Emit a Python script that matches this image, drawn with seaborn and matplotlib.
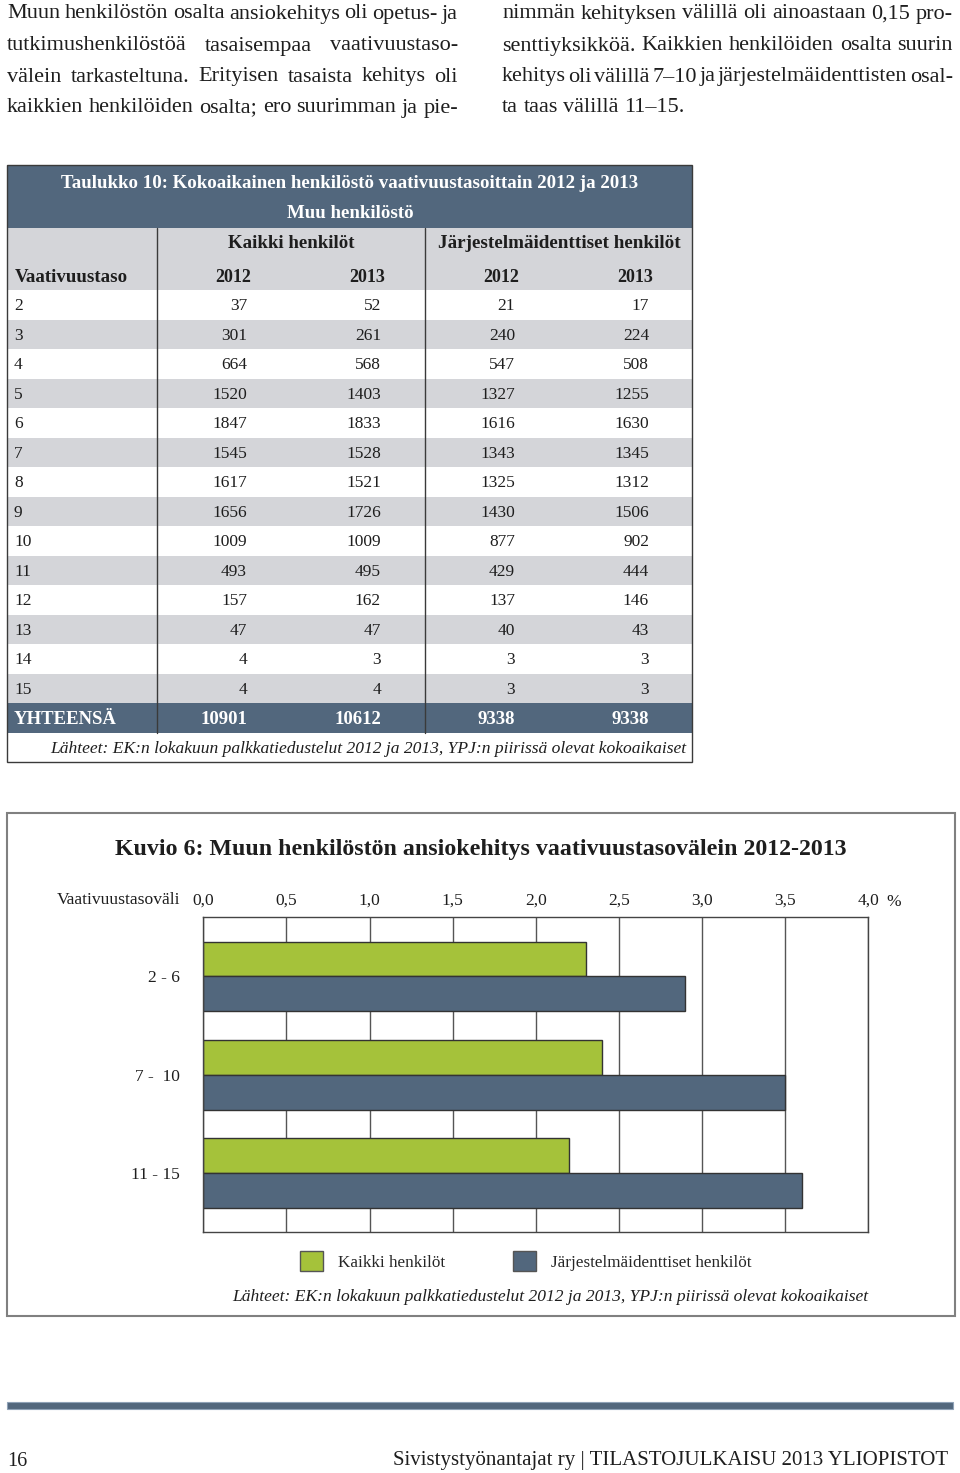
import matplotlib
matplotlib.use("Agg")
import matplotlib.pyplot as plt
from matplotlib.patches import Patch, Rectangle
import numpy as np
import pandas as pd
import seaborn as sns

# --- data -------------------------------------------------------------
vaativuustasot = ["2", "3", "4", "5", "6", "7", "8", "9", "10", "11", "12", "13", "14", "15"]
kaikki_2012 = [37, 301, 664, 1520, 1847, 1545, 1617, 1656, 1009, 493, 157, 47, 4, 4]
kaikki_2013 = [52, 261, 568, 1403, 1833, 1528, 1521, 1726, 1009, 495, 162, 47, 3, 4]
jarj_2012 = [21, 240, 547, 1327, 1616, 1343, 1325, 1430, 877, 429, 137, 40, 3, 3]
jarj_2013 = [17, 224, 508, 1255, 1630, 1345, 1312, 1506, 902, 444, 146, 43, 3, 3]
yhteensa = [10901, 10612, 9338, 9338]

vaativuustasovali = ["2 - 6", "7 -  10", "11 - 15"]
kaikki_muutos = [2.30, 2.40, 2.20]
jarj_muutos = [2.90, 3.50, 3.60]
sarjat = ["Kaikki henkilöt", "Järjestelmäidenttiset henkilöt"]

x_ticks = [0.0, 0.5, 1.0, 1.5, 2.0, 2.5, 3.0, 3.5, 4.0]

left_text = [
    "Muun henkilöstön osalta ansiokehitys oli opetus- ja",
    "tutkimushenkilöstöä tasaisempaa vaativuustaso-",
    "välein tarkasteltuna. Erityisen tasaista kehitys oli",
    "kaikkien henkilöiden osalta; ero suurimman ja pie-",
]
right_text = [
    "nimmän kehityksen välillä oli ainoastaan 0,15 pro-",
    "senttiyksikköä. Kaikkien henkilöiden osalta suurin",
    "kehitys oli välillä 7–10 ja järjestelmäidenttisten osal-",
    "ta taas välillä 11–15.",
]
lahteet = "Lähteet: EK:n lokakuun palkkatiedustelut 2012 ja 2013, YPJ:n piirissä olevat kokoaikaiset"

SLATE = "#52677d"
GREEN = "#a5c23a"
STRIPE = "#d4d5d9"
INK = "#1e1e1e"

sns.set_theme(style="white")
plt.rcParams["font.family"] = ["Liberation Serif", "DejaVu Serif"]

fig = plt.figure(figsize=(9.6, 14.73), dpi=100)
renderer = fig.canvas.get_renderer()

# page layer in pixel coordinates
page = fig.add_axes([0, 0, 1, 1])
page.set_xlim(0, 960)
page.set_ylim(1473, 0)
page.axis("off")


def justify_line(line, x0, x1, y, size, stretch=True):
    words = line.split()
    texts = [page.text(x0, y, w, fontsize=size, va="center", ha="left", color=INK) for w in words]
    space = size * 100 / 72 * 0.25

    def measure():
        return [t.get_window_extent(renderer).width for t in texts]

    widths = measure()
    if stretch:
        gap = (x1 - x0 - sum(widths)) / max(len(words) - 1, 1)
        while gap < space * 0.45:
            size -= 0.2
            for t in texts:
                t.set_fontsize(size)
            widths = measure()
            gap = (x1 - x0 - sum(widths)) / max(len(words) - 1, 1)
    else:
        gap = space
    x = x0
    for t, w in zip(texts, widths):
        t.set_x(x)
        x += w + gap


# --- body text ---------------------------------------------------------
line_y = [14, 46, 77, 108]
for i, line in enumerate(left_text):
    justify_line(line, 7, 458, line_y[i], 16)
for i, line in enumerate(right_text):
    justify_line(line, 502, 953, line_y[i], 16, stretch=i < 3)

# --- table ---------------------------------------------------------------
tx0, tx1 = 7, 692
col_lines = [157, 425]
num_right = [247, 381, 515, 649]
year_center = [233, 367, 501, 635]
row_top, row_h = 290, 29.5

page.add_patch(Rectangle((tx0, 165), tx1 - tx0, 63, facecolor=SLATE, edgecolor="none"))
page.add_patch(Rectangle((tx0, 228), tx1 - tx0, 62, facecolor=STRIPE, edgecolor="none"))
page.text(350, 183, "Taulukko 10: Kokoaikainen henkilöstö vaativuustasoittain 2012 ja 2013",
          fontsize=13.6, fontweight="bold", color="white", ha="center", va="center")
page.text(350, 213, "Muu henkilöstö", fontsize=13.6, fontweight="bold", color="white",
          ha="center", va="center")
page.text(291, 244, sarjat[0], fontsize=13.6, fontweight="bold", color=INK, ha="center", va="center")
page.text(559, 244, sarjat[1], fontsize=13.8, fontweight="bold", color=INK, ha="center", va="center")
page.text(15, 277, "Vaativuustaso", fontsize=13.6, fontweight="bold", color=INK, ha="left", va="center")
for xc, yr in zip(year_center, ["2012", "2013", "2012", "2013"]):
    page.text(xc, 277, yr, fontsize=13, fontweight="bold", color=INK, ha="center", va="center")

columns = [kaikki_2012, kaikki_2013, jarj_2012, jarj_2013]
for i, taso in enumerate(vaativuustasot):
    top = row_top + i * row_h
    if i % 2 == 1:
        page.add_patch(Rectangle((tx0, top), tx1 - tx0, row_h, facecolor=STRIPE, edgecolor="none"))
    yc = top + row_h / 2 + 1.5
    page.text(14, yc, taso, fontsize=12.5, color=INK, ha="left", va="center")
    for xr, col in zip(num_right, columns):
        page.text(xr, yc, str(col[i]), fontsize=12.5, color=INK, ha="right", va="center")

tot_top = row_top + len(vaativuustasot) * row_h
page.add_patch(Rectangle((tx0, tot_top), tx1 - tx0, 30, facecolor=SLATE, edgecolor="none"))
page.text(14, tot_top + 16, "YHTEENSÄ", fontsize=13.5, fontweight="bold", color="white", ha="left", va="center")
for xr, v in zip(num_right, yhteensa):
    page.text(xr, tot_top + 16, str(v), fontsize=13.5, fontweight="bold", color="white", ha="right", va="center")
for xl in col_lines:
    page.plot([xl, xl], [228, tot_top + 30], color="#3a3a3a", lw=1)
page.text(686, tot_top + 46, lahteet, fontsize=12.6, style="italic", color=INK, ha="right", va="center")
page.add_patch(Rectangle((tx0, 165), tx1 - tx0, tot_top + 59 - 165, facecolor="none",
                         edgecolor="#3a3a3a", lw=1))

# --- chart box -------------------------------------------------------------
page.add_patch(Rectangle((7, 813), 948, 503, facecolor="none", edgecolor="#808080", lw=1.5))
page.text(481, 849, "Kuvio 6: Muun henkilöstön ansiokehitys vaativuustasovälein 2012-2013",
          fontsize=17.2, fontweight="bold", color=INK, ha="center", va="center")
page.text(180, 900, "Vaativuustasoväli", fontsize=12.6, color=INK, ha="right", va="center")
page.text(886, 902, "%", fontsize=12.5, color=INK, ha="left", va="center")
page.text(868, 1297, lahteet, fontsize=12.6, style="italic", color=INK, ha="right", va="center")

df = pd.DataFrame({
    "vali": vaativuustasovali * 2,
    "sarja": [sarjat[0]] * 3 + [sarjat[1]] * 3,
    "muutos": kaikki_muutos + jarj_muutos,
})

ax = fig.add_axes([203.3 / 960, 1 - 1232 / 1473, 665 / 960, 315.5 / 1473])
sns.barplot(data=df, x="muutos", y="vali", hue="sarja", order=vaativuustasovali, hue_order=sarjat,
            orient="h", palette=[GREEN, SLATE], saturation=1, width=0.71,
            edgecolor="#333333", linewidth=1, legend=False, ax=ax)
ax.set_xlim(0, 4)
ax.set_ylim(2.60, -0.61)
ax.set_xticks(x_ticks)
ax.set_xticklabels([f"{t:.1f}".replace(".", ",") for t in x_ticks])
ax.xaxis.tick_top()
ax.tick_params(axis="x", length=0, pad=6, labelsize=12.5, colors=INK)
ax.tick_params(axis="y", length=0, pad=17, labelsize=12.5, colors=INK)
ax.set_xlabel("")
ax.set_ylabel("")
ax.grid(axis="x", color="#555555", lw=1)
ax.grid(axis="y", visible=False)
ax.set_axisbelow(True)
for s in ax.spines.values():
    s.set_visible(True)
    s.set_color("#444444")
    s.set_linewidth(1)

handles = [Patch(facecolor=GREEN, edgecolor="#555555"), Patch(facecolor=SLATE, edgecolor="#555555")]
fig.legend(handles, sarjat, loc="center", bbox_to_anchor=(526 / 960, 1 - 1261 / 1473), ncol=2,
           frameon=False, fontsize=12.3, handlelength=1.3, handleheight=1.4,
           handletextpad=0.9, columnspacing=4.0)

# --- footer ------------------------------------------------------------------
page.add_patch(Rectangle((7, 1402), 946, 7, facecolor=SLATE, edgecolor="#8fa2b7", lw=0.8))
page.text(7, 1461, "16", fontsize=14.5, color=INK, ha="left", va="center")
page.text(948, 1461, "Sivistystyönantajat ry | TILASTOJULKAISU 2013 YLIOPISTOT", fontsize=15,
          color=INK, ha="right", va="center")

fig.savefig("out.png", dpi=100)
